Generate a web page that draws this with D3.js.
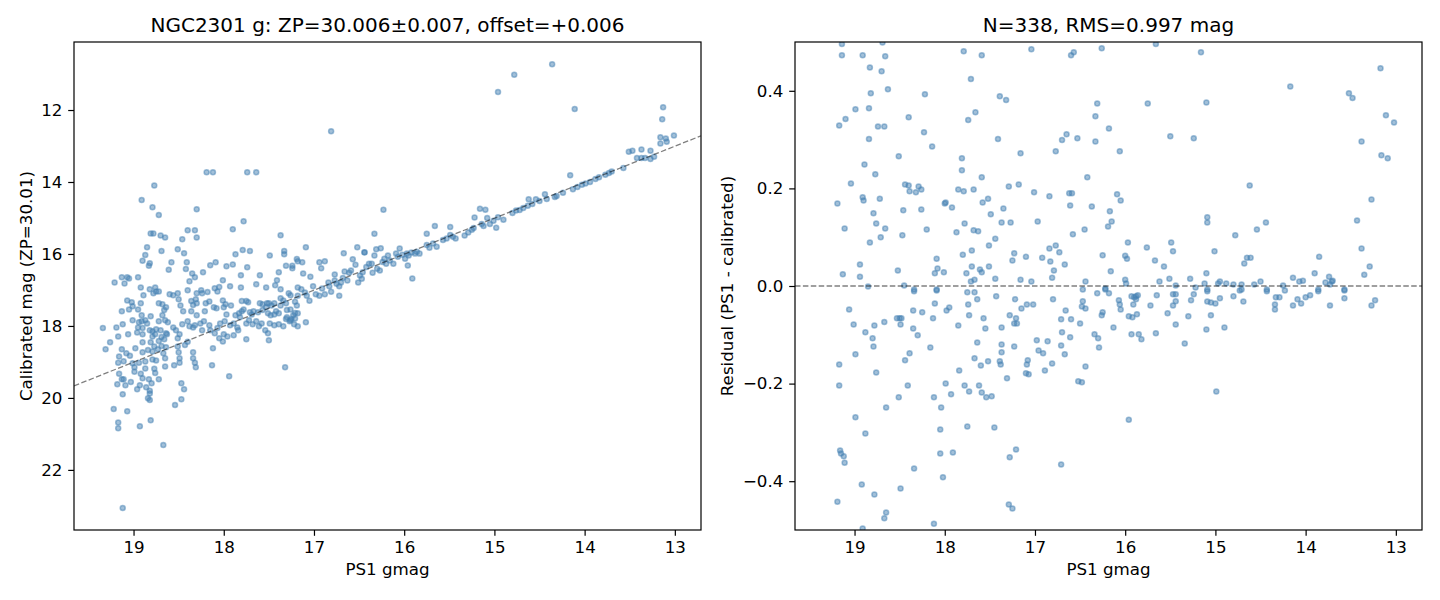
<!DOCTYPE html>
<html>
<head>
<meta charset="utf-8">
<script src="https://cdn.jsdelivr.net/npm/d3@7"></script>
<style>
  body { margin: 0; background: #fff; }
  svg text { font-family: "DejaVu Sans", sans-serif; fill: #000; }
</style>
</head>
<body>
<div id="chart"></div>
<script>
// ---- data ----
var titleLeft = "NGC2301 g: ZP=30.006\u00b10.007, offset=+0.006";
var titleRight = "N=338, RMS=0.997 mag";
var fitOffset = 0.006;

var xTicks = [19, 18, 17, 16, 15, 14, 13];
var calTicks = [12, 14, 16, 18, 20, 22];
var resTicks = [-0.4, -0.2, 0.0, 0.2, 0.4];
var resTickLabels = ["\u22120.4", "\u22120.2", "0.0", "0.2", "0.4"];

// [PS1 gmag, calibrated mag]
var calPoints = [
  [18.19,13.73],[18.12,13.73],[17.74,13.73],[17.64,13.73],[18.77,14.10],[18.91,14.50],[18.79,14.70],
  [18.72,14.92],[18.30,14.76],[17.78,15.09],[17.90,15.31],[18.40,15.34],[18.32,15.34],[18.81,15.43],
  [18.78,15.43],[18.70,15.49],[18.65,15.54],[18.30,15.54],[18.46,15.59],[17.37,15.48],[18.85,15.81],
  [18.51,15.87],[18.44,15.98],[18.69,15.92],[18.87,16.03],[18.90,16.19],[18.82,16.26],[18.83,16.33],
  [18.58,16.23],[18.41,16.23],[18.15,16.31],[18.09,16.23],[17.87,16.01],[17.79,15.89],[17.71,15.92],
  [17.33,15.92],[17.33,16.01],[17.49,16.04],[17.19,16.14],[17.31,16.33],[17.24,16.33],[17.97,16.34],
  [17.90,16.29],[17.74,16.37],[18.61,16.44],[18.42,16.42],[18.35,16.54],[18.32,16.65],[18.23,16.51],
  [17.39,16.51],[17.81,16.59],[17.60,16.59],[19.13,16.65],[19.07,16.65],[19.05,16.68],[18.95,16.65],
  [19.21,16.79],[19.10,16.82],[18.38,16.76],[18.01,16.73],[17.41,16.73],[18.92,16.93],[18.82,16.98],
  [18.76,16.93],[18.75,17.04],[18.78,17.09],[18.89,17.15],[18.72,17.04],[18.60,17.12],[18.56,17.15],
  [18.51,17.09],[18.50,17.26],[18.40,17.01],[18.25,17.01],[18.24,17.09],[18.30,17.09],[18.18,17.06],
  [18.10,16.95],[18.05,16.92],[18.07,17.04],[17.93,16.90],[17.81,16.93],[17.64,16.84],[17.53,16.93],
  [17.43,16.87],[17.37,16.98],[17.28,17.09],[17.26,17.15],[17.18,16.93],[19.07,17.29],[19.02,17.34],
  [19.13,17.59],[19.05,17.54],[19.01,17.45],[18.95,17.54],[18.92,17.37],[18.72,17.37],[18.68,17.40],
  [18.66,17.56],[18.68,17.70],[18.64,17.48],[18.48,17.43],[18.45,17.59],[18.36,17.31],[18.34,17.42],
  [18.36,17.59],[18.31,17.26],[18.30,17.37],[18.30,17.70],[18.20,17.37],[18.16,17.32],[18.21,17.59],
  [18.11,17.48],[18.08,17.51],[18.01,17.29],[17.98,17.40],[18.00,17.48],[17.92,17.43],[17.97,17.68],
  [17.87,17.70],[17.83,17.65],[17.80,17.59],[17.78,17.54],[17.80,17.31],[17.75,17.31],[17.73,17.34],
  [17.71,17.62],[17.69,17.68],[17.67,17.59],[17.62,17.62],[17.60,17.37],[17.57,17.40],[17.52,17.37],
  [17.57,17.56],[17.53,17.48],[17.51,17.65],[17.50,17.37],[17.47,17.43],[17.44,17.37],[17.48,17.70],
  [17.44,17.68],[17.42,17.59],[17.39,17.65],[17.37,17.23],[17.34,17.29],[17.37,17.43],[17.31,17.37],
  [17.30,17.56],[17.26,17.54],[17.23,17.70],[17.30,17.76],[17.26,17.84],[17.21,17.79],[17.19,17.43],
  [17.18,17.65],[19.34,18.06],[19.19,18.04],[19.12,17.95],[19.17,18.29],[19.06,18.23],[19.01,17.84],
  [18.94,17.90],[18.91,17.87],[18.87,17.84],[18.85,17.93],[18.91,17.70],[18.95,18.04],[18.90,18.06],
  [18.81,17.73],[18.72,17.87],[18.65,17.84],[18.62,17.90],[18.96,18.18],[18.90,18.23],[18.82,18.12],
  [18.79,18.15],[18.75,18.09],[18.70,18.12],[18.64,18.20],[18.69,18.31],[18.79,18.29],[18.76,18.23],
  [18.63,18.23],[18.56,18.04],[18.53,18.12],[18.46,17.95],[18.49,18.23],[18.51,18.34],[18.40,17.87],
  [18.38,18.01],[18.34,18.04],[18.32,17.98],[18.26,17.93],[18.24,18.12],[18.22,17.87],[18.16,17.98],
  [18.15,18.12],[18.10,18.20],[18.07,18.06],[18.04,17.93],[17.99,17.87],[17.93,17.98],[17.89,17.93],
  [17.85,18.04],[17.82,17.76],[18.00,18.23],[17.96,18.29],[17.89,18.26],[17.84,18.12],[17.75,17.93],
  [17.72,17.84],[17.68,17.95],[17.64,17.87],[17.61,18.01],[17.58,17.93],[17.54,18.12],[17.49,17.93],
  [17.51,18.20],[17.44,17.98],[17.39,17.95],[17.34,18.01],[17.31,17.81],[17.27,17.87],[17.22,17.95],
  [17.18,18.01],
  [19.26,18.45],[19.31,18.65],[19.13,18.65],[18.98,18.62],[18.90,18.45],[18.81,18.45],[18.72,18.42],
  [18.66,18.37],[18.77,18.57],[18.90,18.73],[18.84,18.67],[18.79,18.71],[18.73,18.65],[18.69,18.56],
  [18.64,18.59],[18.67,18.76],[18.79,18.93],[18.75,18.96],[18.65,18.90],[19.08,18.76],[19.04,18.83],
  [19.16,18.85],[19.17,19.02],[19.11,18.98],[19.01,19.04],[18.99,19.15],[18.99,19.27],[18.87,18.99],
  [18.87,19.18],[18.94,19.02],[18.77,19.19],[18.76,19.31],[18.65,19.13],[18.55,19.09],[18.50,18.73],
  [18.49,18.90],[18.49,19.02],[18.51,18.57],[18.43,18.53],[18.40,18.44],[18.34,18.73],[18.34,18.90],
  [18.32,19.02],[18.31,19.15],[18.13,19.09],[18.12,18.62],[18.05,18.34],[18.01,18.43],[17.94,19.40],
  [17.75,18.37],[17.50,18.40],[17.32,19.15],[19.16,19.33],[19.13,19.48],[19.11,19.48],[19.18,19.62],
  [19.09,19.65],[19.03,19.56],[19.12,19.90],[18.92,19.33],[18.90,19.45],[18.93,19.65],[18.96,19.76],
  [18.83,19.48],[18.80,19.59],[18.86,19.70],[18.82,19.80],[18.82,19.88],[18.84,20.01],[18.82,20.06],
  [18.72,19.48],[18.47,19.59],[18.44,19.76],[18.47,20.04],[18.54,20.20],[19.22,20.31],[19.07,20.37],
  [19.17,20.68],[19.17,20.84],[18.93,20.79],[18.81,20.62],[18.67,21.31],[19.12,23.06],
  [17.21,17.33],[17.18,17.16],[17.14,16.98],[17.10,17.07],[17.08,17.16],[17.05,17.30],[17.01,16.90],
  [16.98,17.12],[16.94,17.16],[16.91,16.96],[16.88,17.12],[16.84,16.79],[16.83,16.90],[16.81,17.05],
  [16.77,16.74],[16.75,16.83],[16.72,16.90],[16.70,16.79],[16.68,16.67],[16.66,16.49],[16.63,16.74],
  [16.61,16.52],[16.59,16.46],[16.57,16.15],[16.54,16.30],[16.51,16.79],[16.49,16.60],[16.47,16.69],
  [16.46,16.51],[16.44,15.96],[16.42,16.36],[16.39,16.27],[16.36,16.27],[16.35,16.52],[16.33,16.04],
  [16.30,16.41],[16.27,16.46],[16.24,16.22],[16.22,16.13],[16.20,16.27],[16.18,16.04],[16.16,16.18],
  [16.12,16.27],[16.09,15.99],[16.07,16.08],[16.05,15.85],[16.02,16.02],[15.99,16.13],[15.97,15.99],
  [15.95,16.04],[15.92,15.96],[15.88,15.99],[15.86,15.94],[15.83,15.99],[15.75,15.75],[15.72,15.83],
  [15.68,15.71],[15.64,15.80],[15.57,15.61],[15.53,15.57],[15.49,15.47],[15.46,15.52],[15.43,15.57],
  [15.33,15.49],[15.29,15.40],[15.25,15.33],[15.23,15.28],[15.14,15.17],[15.12,15.22],[15.08,15.00],
  [15.05,15.17],[15.01,15.08],[14.96,14.98],[14.90,15.05],[14.80,14.86],[14.76,14.79],[14.72,14.78],
  [14.68,14.72],[14.63,14.66],[14.58,14.61],[14.50,14.53],[14.42,14.47],[14.33,14.42],[14.31,14.39],
  [14.24,14.30],[14.13,14.20],[14.08,14.14],[14.03,14.08],[13.99,14.04],[13.94,14.00],[13.88,13.92],
  [13.84,13.87],[13.77,13.80],[13.73,13.75],[13.70,13.71],
  [16.81,12.59],[16.23,14.77],[16.33,15.44],[14.96,11.50],[14.78,11.02],[14.36,10.73],[14.11,11.97],
  [13.13,11.92],[13.14,12.26],[13.16,12.76],[13.10,12.79],[13.09,12.88],[13.16,12.93],[13.01,12.71],
  [13.51,13.16],[13.47,13.13],[13.37,13.10],[13.27,13.13],[13.42,13.33],[13.37,13.33],[13.33,13.33],
  [13.27,13.36],[13.23,13.30],[13.57,13.61],[14.16,13.81],[14.44,14.34],[14.62,14.48],[14.54,14.48],
  [15.16,14.74],[15.10,14.77],[15.22,14.99],[14.98,15.27],[15.66,15.22],[15.49,15.25],[15.75,15.44],
  [15.91,16.68],[15.96,16.32],[16.52,15.81],[16.67,15.98],[16.44,15.95],[16.31,15.87],[16.26,15.84],
  [17.09,15.81],[17.18,16.20],[17.13,16.23],[16.94,16.23],[16.88,16.20],[16.92,16.40],[17.24,16.40],
  [17.12,16.54],[17.04,16.63],[16.77,16.57],[17.09,17.90],[16.72,17.16],[17.21,17.64],[17.25,17.81]
];

// [PS1 gmag, residual PS1 - calibrated]
var resPoints = [
  [19.14,0.496],[18.69,0.499],[19.14,0.473],[18.91,0.473],[18.66,0.471],[18.83,0.448],[18.70,0.440],
  [18.63,0.403],[18.82,0.395],[18.99,0.362],[18.84,0.364],[19.10,0.342],[19.17,0.329],[18.74,0.327],
  [18.67,0.327],[18.84,0.301],[18.40,0.346],[18.22,0.393],[18.23,0.315],[18.14,0.286],[18.51,0.266],
  [18.89,0.249],[18.77,0.229],[19.04,0.210],[18.91,0.182],[18.90,0.175],[18.72,0.179],[19.19,0.169],
  [18.79,0.149],[18.76,0.128],[18.66,0.118],[19.11,0.118],[18.83,0.089],[18.71,0.100],[18.94,0.044],
  [19.13,0.024],[18.94,0.019],[18.85,-0.001],[18.52,0.032],[18.45,0.001],[18.47,0.104],[18.46,0.155],
  [18.44,0.208],[18.40,0.206],[18.29,0.204],[18.39,0.194],[18.32,0.192],[18.26,0.198],[18.26,0.157],
  [18.20,0.116],[18.09,0.056],[18.08,0.036],[18.11,0.026],[18.01,0.028],[18.00,0.169],[17.99,0.171],
  [17.92,0.161],[17.85,0.198],[17.79,0.194],[17.81,0.262],[17.81,0.237],[17.79,0.481],[17.71,0.424],
  [17.74,0.340],[17.66,0.356],[17.59,0.473],[17.59,0.223],[17.68,0.198],[17.58,0.171],[17.52,0.179],
  [17.49,0.147],[17.78,0.128],[17.87,0.110],[17.68,0.114],[17.63,0.112],[17.44,0.097],[17.51,0.083],
  [17.70,0.073],[17.80,0.064],[17.70,0.040],[17.76,0.026],[17.61,0.034],[17.59,0.028],[17.51,0.040],
  [17.44,0.015],[17.71,0.009],[17.67,0.013],[17.41,0.301],[17.39,0.389],[17.32,0.381],[17.35,0.159],
  [17.37,0.130],[17.27,0.130],[17.29,0.204],[17.18,0.208],[17.16,0.272],[17.04,0.485],[17.01,0.192],
  [16.97,0.132],[17.23,0.067],[17.25,0.052],[17.10,0.060],[17.16,0.013],[17.04,0.009],[16.92,0.058],
  [16.84,0.184],[16.84,0.077],[16.77,0.083],[16.73,0.069],[16.83,0.050],[16.79,0.032],[16.81,0.017],
  [16.67,0.044],[16.77,0.276],[16.70,0.299],[16.65,0.311],[16.53,0.303],[16.60,0.473],[16.57,0.479],
  [16.26,0.487],[16.31,0.374],[16.33,0.348],[16.18,0.323],[16.33,0.296],[16.42,0.223],[16.62,0.190],
  [16.59,0.190],[16.61,0.165],[16.37,0.163],[16.17,0.153],[16.15,0.132],[16.19,0.122],[16.45,0.116],
  [16.58,0.106],[16.25,0.063],[16.16,0.030],[16.44,0.009],[16.47,-0.007],[16.22,-0.005],[18.34,-0.007],
  [18.09,-0.007],
  [18.34,-0.011],[18.09,-0.009],[17.75,-0.013],[17.67,-0.013],[17.64,-0.027],[17.74,-0.038],[17.43,-0.021],
  [17.22,-0.027],[17.09,-0.038],[17.02,-0.038],[17.15,-0.046],[16.80,-0.027],[16.31,-0.015],[16.18,-0.015],
  [16.22,-0.007],[16.47,-0.031],[16.48,-0.042],[16.44,-0.046],[16.26,-0.060],[16.25,-0.054],[16.13,-0.085],
  [19.06,-0.048],[19.01,-0.079],[18.88,-0.095],[18.78,-0.081],[18.67,-0.074],[18.80,-0.107],[18.79,-0.124],
  [18.99,-0.140],[19.17,-0.161],[19.17,-0.204],[18.76,-0.177],[18.53,-0.066],[18.50,-0.066],[18.48,-0.066],
  [18.49,-0.079],[18.35,-0.050],[18.25,-0.054],[18.35,-0.087],[18.30,-0.101],[18.39,-0.138],[18.44,-0.152],
  [18.16,-0.126],[18.13,-0.066],[18.11,-0.036],[17.98,-0.050],[17.95,-0.044],[17.85,-0.081],[17.73,-0.060],
  [17.57,-0.066],[17.55,-0.087],[17.64,-0.116],[17.67,-0.148],[17.60,-0.163],[17.52,-0.154],[17.84,-0.173],
  [17.37,-0.085],[17.37,-0.120],[17.37,-0.136],[17.39,-0.154],[17.38,-0.161],[17.23,-0.124],[17.28,-0.060],
  [17.21,-0.066],[17.23,-0.077],[17.20,-0.077],[17.31,-0.189],[17.08,-0.152],[17.09,-0.161],[17.10,-0.179],
  [17.07,-0.181],[16.98,-0.111],[16.96,-0.132],[16.91,-0.138],[16.86,-0.113],[16.81,-0.159],[16.89,-0.173],
  [16.71,-0.068],[16.66,-0.050],[16.60,-0.068],[16.70,-0.095],[16.61,-0.105],[16.71,-0.122],[16.67,-0.140],
  [16.50,-0.077],[16.44,-0.165],[16.52,-0.195],[16.48,-0.197],[16.34,-0.099],[16.30,-0.107],[16.29,-0.126],
  [17.99,-0.200],[17.93,-0.222],[17.78,-0.204],[17.73,-0.216],[17.62,-0.204],[17.59,-0.218],[17.54,-0.228],
  [17.48,-0.226],[18.12,-0.228],[18.41,-0.204],[18.51,-0.228],[18.65,-0.249],[18.99,-0.269],[18.88,-0.302],
  [18.04,-0.249],[18.05,-0.294],[17.75,-0.288],[17.45,-0.290],[19.16,-0.337],[19.15,-0.343],[19.12,-0.349],
  [19.11,-0.362],[18.05,-0.343],[17.91,-0.341],[17.28,-0.351],[17.21,-0.335],[16.71,-0.366],[18.34,-0.374],
  [18.02,-0.392],[18.92,-0.407],[18.78,-0.427],[18.49,-0.415],[19.19,-0.442],[18.65,-0.464],[18.67,-0.476],
  [17.29,-0.448],[17.25,-0.456],[18.12,-0.487],[18.91,-0.497],
  [15.66,0.496],[15.16,0.479],[15.75,0.374],[15.10,0.376],[15.50,0.307],[15.24,0.303],[16.06,0.276],
  [14.17,0.409],[13.17,0.446],[13.52,0.395],[13.48,0.385],[13.11,0.350],[13.02,0.335],[13.38,0.296],
  [13.16,0.268],[13.09,0.262],[14.62,0.206],[13.27,0.177],[16.09,0.188],[16.05,0.175],[15.09,0.141],
  [15.09,0.130],[14.44,0.130],[14.54,0.116],[14.78,0.104],[13.43,0.134],[15.97,0.089],[16.00,0.062],
  [15.98,0.056],[15.76,0.079],[15.49,0.089],[15.47,0.071],[15.67,0.052],[15.57,0.040],[15.01,0.071],
  [14.65,0.058],[14.61,0.058],[14.68,0.046],[13.85,0.060],[13.38,0.077],[13.29,0.040],[13.35,0.023],
  [16.00,0.013],[15.99,0.005],[15.62,0.009],[15.51,0.015],[15.44,0.001],[15.28,0.015],[15.22,-0.003],
  [15.12,0.005],[15.10,0.026],[14.97,0.005],[14.95,0.009],[14.88,0.005],[14.80,0.003],[14.71,0.003],
  [14.57,0.003],[14.50,0.009],[14.25,0.001],[14.14,0.017],[14.07,0.009],[14.03,0.011],[13.90,0.026],
  [13.78,0.007],[13.74,0.019],[13.71,0.009],[13.70,0.011],[13.73,0.003],[13.57,-0.007],[14.43,-0.007],
  [15.09,-0.007],[14.71,-0.007],[13.86,-0.007],
  [16.07,-0.029],[16.06,-0.038],[16.05,-0.048],[15.93,-0.021],[15.90,-0.023],[15.88,-0.021],[15.86,-0.019],
  [15.88,-0.027],[15.91,-0.038],[15.96,-0.062],[15.92,-0.064],[15.87,-0.058],[15.93,-0.099],[15.85,-0.099],
  [15.82,-0.109],[15.96,-0.274],[15.72,-0.040],[15.65,-0.019],[15.66,-0.097],[15.53,-0.056],[15.47,-0.017],
  [15.44,-0.017],[15.47,-0.040],[15.44,-0.031],[15.44,-0.079],[15.30,-0.062],[15.34,-0.118],[15.27,-0.029],
  [15.24,-0.017],[15.09,-0.011],[15.09,-0.032],[15.05,-0.034],[15.00,-0.036],[14.95,-0.025],[15.05,-0.060],
  [15.10,-0.089],[14.90,-0.085],[14.99,-0.216],[14.80,-0.021],[14.73,-0.009],[14.69,-0.032],[14.43,-0.011],
  [14.33,-0.023],[14.29,-0.023],[14.34,-0.038],[14.34,-0.048],[14.23,-0.009],[14.14,-0.040],[14.09,-0.027],
  [14.05,-0.036],[14.00,-0.023],[13.95,-0.019],[13.86,-0.011],[13.73,-0.040],[13.57,-0.009],[13.57,-0.025],
  [13.27,-0.040],[13.23,-0.029]
];

// ---- layout (figure is 1440 x 600) ----
var svgWidth = 1440;
var svgHeight = 600;
var panelTop = 42;
var panelWidth = 627;
var panelHeight = 488;
var leftX = 74;
var rightX = 795;

var dotColor = "steelblue";
var tickFont = "16.7px";
var titleFont = "20px";

var svg = d3.select("#chart")
  .append("svg")
  .attr("width", svgWidth)
  .attr("height", svgHeight);

// both panels share the same magnitude axis (bright to the right)
var xScale = d3.scaleLinear().domain([19.66, 12.71]).range([0, panelWidth]);
var calScale = d3.scaleLinear().domain([10.11, 23.67]).range([0, panelHeight]);
var resScale = d3.scaleLinear().domain([0.5, -0.5]).range([0, panelHeight]);

function drawPanel(offsetX, yScale, yTicks, yFormat, points, refLine, title, yLabel, labelX, clipId) {
  var g = svg.append("g")
    .attr("transform", `translate(${offsetX}, ${panelTop})`);

  g.append("clipPath")
    .attr("id", clipId)
    .append("rect")
    .attr("width", panelWidth)
    .attr("height", panelHeight);

  var plot = g.append("g").attr("clip-path", `url(#${clipId})`);

  plot.selectAll("circle")
    .data(points)
    .enter()
    .append("circle")
    .attr("cx", d => xScale(d[0]))
    .attr("cy", d => yScale(d[1]))
    .attr("r", 2.5)
    .attr("fill", dotColor)
    .attr("fill-opacity", 0.5)
    .attr("stroke", dotColor)
    .attr("stroke-opacity", 0.5)
    .attr("stroke-width", 1.5);

  // dashed reference line, drawn above the points
  var xs = xScale.domain();
  plot.append("line")
    .attr("x1", xScale(xs[0]))
    .attr("y1", yScale(refLine(xs[0])))
    .attr("x2", xScale(xs[1]))
    .attr("y2", yScale(refLine(xs[1])))
    .attr("stroke", "#000")
    .attr("stroke-opacity", 0.5)
    .attr("stroke-width", 1.3)
    .attr("stroke-dasharray", "5.5,2.4");

  // axes
  var xAxis = d3.axisBottom(xScale)
    .tickValues(xTicks)
    .tickFormat(d3.format("d"))
    .tickSize(5.8)
    .tickSizeOuter(0)
    .tickPadding(5.8);
  var yAxis = d3.axisLeft(yScale)
    .tickValues(yTicks)
    .tickFormat(yFormat)
    .tickSize(5.8)
    .tickSizeOuter(0)
    .tickPadding(5.8);

  var gx = g.append("g")
    .attr("transform", `translate(0, ${panelHeight})`)
    .call(xAxis);
  var gy = g.append("g").call(yAxis);

  [gx, gy].forEach(function(ax) {
    ax.select(".domain").remove();
    ax.selectAll("line").attr("stroke", "#000").attr("stroke-width", 1.2);
    ax.selectAll("text")
      .style("font-family", "'DejaVu Sans', sans-serif")
      .style("font-size", tickFont)
      .attr("fill", "#000");
  });

  // frame
  g.append("rect")
    .attr("width", panelWidth)
    .attr("height", panelHeight)
    .attr("fill", "none")
    .attr("stroke", "#000")
    .attr("stroke-width", 1.2);

  g.append("text")
    .attr("x", panelWidth / 2)
    .attr("y", -10)
    .attr("text-anchor", "middle")
    .style("font-size", titleFont)
    .text(title);

  g.append("text")
    .attr("x", panelWidth / 2)
    .attr("y", panelHeight + 45)
    .attr("text-anchor", "middle")
    .style("font-size", tickFont)
    .text("PS1 gmag");

  g.append("text")
    .attr("transform", `translate(${labelX}, ${panelHeight / 2}) rotate(-90)`)
    .attr("text-anchor", "middle")
    .style("font-size", tickFont)
    .text(yLabel);
}

drawPanel(leftX, calScale, calTicks, d3.format("d"), calPoints,
  x => x + fitOffset, titleLeft, "Calibrated mag (ZP=30.01)", -42, "clipL");

drawPanel(rightX, resScale, resTicks, (d, i) => resTickLabels[i], resPoints,
  x => 0, titleRight, "Residual (PS1 - calibrated)", -62, "clipR");
</script>
</body>
</html>
